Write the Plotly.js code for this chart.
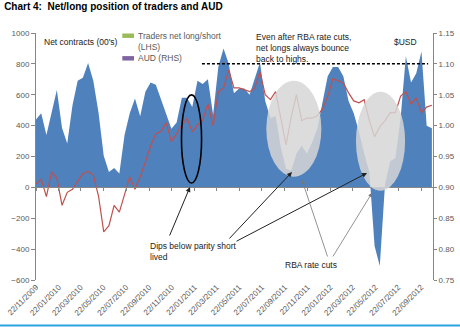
<!DOCTYPE html>
<html><head><meta charset="utf-8">
<script src="https://cdn.plot.ly/plotly-3.0.1.min.js"></script>
<style>html,body{margin:0;padding:0;background:#fff}#chart{width:460px;height:327px}</style>
</head><body><div id="chart"></div>
<script>
const dates = ['2009-11-22','2009-12-06','2009-12-20',
'2010-01-03','2010-01-17','2010-01-31','2010-02-14','2010-02-28','2010-03-14','2010-03-28','2010-04-11','2010-04-25','2010-05-09','2010-05-23','2010-06-06','2010-06-20','2010-07-04','2010-07-18','2010-08-01','2010-08-15','2010-08-29','2010-09-12','2010-09-26','2010-10-10','2010-10-24','2010-11-07','2010-11-21','2010-12-05','2010-12-19',
'2011-01-02','2011-01-16','2011-01-30','2011-02-13','2011-02-27','2011-03-13','2011-03-27','2011-04-10','2011-04-24','2011-05-08','2011-05-22','2011-06-05','2011-06-19','2011-07-03','2011-07-17','2011-07-31','2011-08-14','2011-08-28','2011-09-11','2011-09-25','2011-10-09','2011-10-23','2011-11-06','2011-11-20','2011-12-04','2011-12-18',
'2012-01-01','2012-01-15','2012-01-29','2012-02-12','2012-02-26','2012-03-11','2012-03-25','2012-04-08','2012-04-22','2012-05-06','2012-05-20','2012-06-03','2012-06-17','2012-07-01','2012-07-15','2012-07-29','2012-08-12','2012-08-26','2012-09-09','2012-09-23','2012-10-07','2012-10-21'];

const netContracts = [440,480,340,480,630,385,285,530,690,710,
805,690,485,205,100,125,90,340,480,575,
460,620,680,665,565,480,380,420,580,580,
520,690,670,700,470,780,900,800,610,640,
640,600,710,810,560,450,460,260,120,110,
220,270,220,290,380,540,720,780,780,720,
560,480,360,220,100,-380,-510,20,170,190,
450,850,680,740,880,400,383];

const audUsd = [0.906,0.913,0.885,0.925,0.915,0.871,0.892,0.897,0.910,0.922,
0.926,0.920,0.886,0.828,0.838,0.871,0.860,0.887,0.917,0.897,
0.917,0.941,0.967,0.987,0.991,1.005,0.974,0.987,1.001,1.012,
0.990,1.001,1.009,1.035,1.000,1.055,1.061,1.090,1.061,1.061,
1.058,1.055,1.061,1.087,1.050,1.042,1.055,1.014,0.969,1.014,
1.050,1.008,1.012,1.012,1.016,1.027,1.047,1.076,1.073,1.069,
1.053,1.040,1.037,1.042,1.008,0.982,0.998,1.008,1.021,1.021,
1.048,1.055,1.035,1.045,1.021,1.030,1.033];

const tickDates = ['2009-11-22','2010-01-22','2010-03-22','2010-05-22','2010-07-22','2010-09-22','2010-11-22','2011-01-22','2011-03-22','2011-05-22','2011-07-22','2011-09-22','2011-11-22','2012-01-22','2012-03-22','2012-05-22','2012-07-22','2012-09-22'];
const tickLabels = ['22/11/2009','22/01/2010','22/03/2010','22/05/2010','22/07/2010','22/09/2010','22/11/2010','22/01/2011','22/03/2011','22/05/2011','22/07/2011','22/09/2011','22/11/2011','22/01/2012','22/03/2012','22/05/2012','22/07/2012','22/09/2012'];
const lhsTicks = [-600,-400,-200,0,200,400,600,800,1000];
const rhsTicks = [0.75,0.80,0.85,0.90,0.95,1.00,1.05,1.10,1.15];

const legendNames = ['Traders net long/short<br>(LHS)','AUD (RHS)'];
const legendColors = ['#9BBB59','#8064A2'];

const xRange = ['2009-11-22','2012-10-24'];
const axisGray = '#868686';
const textGray = '#595959';
const tickFont = {family:'Liberation Sans, Arial, sans-serif', size:8, color:textGray};
const noteFont = {family:'Liberation Sans Narrow, Liberation Sans, Arial, sans-serif', size:8.5, color:'#222'};

const traces = [
  {type:'scatter', mode:'lines', x:dates, y:netContracts, fill:'tozeroy',
   fillcolor:'#4F81BD', line:{width:0, color:'#4F81BD'}, showlegend:false, hoverinfo:'skip', xaxis:'x', yaxis:'y'},
  {type:'scatter', mode:'lines', x:dates, y:audUsd, line:{width:1.2, color:'#C0504D'},
   showlegend:false, hoverinfo:'skip', xaxis:'x', yaxis:'y2'},
  {type:'scatter', mode:'markers', x:[null], y:[null], showlegend:false, hoverinfo:'skip', xaxis:'x2', yaxis:'y'}
];

const shapes = [
  {type:'line', xref:'x', yref:'y', x0:'2011-02-11', x1:'2012-10-11', y0:800, y1:800,
   line:{color:'#000', width:1.5, dash:'3px,2px'}},
  {type:'circle', xref:'x', yref:'y', x0:'2010-12-18', x1:'2011-02-10', y0:28, y1:599,
   line:{color:'#000', width:1.6}, fillcolor:'rgba(0,0,0,0)'},
  {type:'circle', xref:'x', yref:'y', x0:'2011-08-03', x1:'2011-12-29', y0:69, y1:690,
   line:{width:0}, fillcolor:'rgba(214,214,214,0.85)'},
  {type:'circle', xref:'x', yref:'y', x0:'2012-03-31', x1:'2012-08-10', y0:-22, y1:620,
   line:{width:0}, fillcolor:'rgba(214,214,214,0.85)'},
  {type:'rect', xref:'paper', yref:'paper', x0:0.2174, x1:0.2469, y0:0.9800, y1:0.9980,
   line:{width:0}, fillcolor:legendColors[0]},
  {type:'rect', xref:'paper', yref:'paper', x0:0.2174, x1:0.2469, y0:0.8885, y1:0.9065,
   line:{width:0}, fillcolor:legendColors[1]},
  {type:'line', xref:'paper', yref:'paper', x0:-0.0907, x1:1.068, y0:-0.184, y1:-0.184,
   line:{color:'#2AA4E0', width:2}}
];

function arrow(x, y, ax, ay, color, w){
  return {xref:'paper', yref:'paper', x:x, y:y, ax:ax, ay:ay, text:'', showarrow:true,
    arrowhead:2, arrowsize:1, arrowwidth:w, arrowcolor:color};
}

const annotations = [
  {xref:'paper', yref:'paper', x:0.0151, y:0.962, xanchor:'left', yanchor:'middle', text:"Net contracts (00's)", showarrow:false, font:noteFont},
  {xref:'paper', yref:'paper', x:0.2511, y:0.964, xanchor:'left', yanchor:'middle', align:'left', text:legendNames[0], showarrow:false, font:{...noteFont, color:textGray}},
  {xref:'paper', yref:'paper', x:0.2511, y:0.8976, xanchor:'left', yanchor:'middle', align:'left', text:legendNames[1], showarrow:false, font:{...noteFont, color:textGray}},
  {xref:'paper', yref:'paper', x:0.549, y:0.939, xanchor:'left', yanchor:'middle', align:'left', text:'Even after RBA rate cuts,<br>net longs always bounce<br>back to highs.', showarrow:false, font:noteFont},
  {xref:'paper', yref:'paper', x:0.9647, y:0.962, xanchor:'right', yanchor:'middle', text:'$USD', showarrow:false, font:noteFont},
  {xref:'paper', yref:'paper', x:0.2821, y:0.1154, xanchor:'left', yanchor:'middle', align:'left', text:'Dips below parity short<br>lived', showarrow:false, font:noteFont},
  {xref:'paper', yref:'paper', x:0.6222, y:0.0607, xanchor:'left', yanchor:'middle', text:'RBA rate cuts', showarrow:false, font:noteFont},
  arrow(0.3879, 0.3765, -21, 50, '#222', 1),
  arrow(0.6448, 0.4372, -64, 68, '#222', 1),
  arrow(0.8338, 0.4332, -132, 69, '#222', 1),
  arrow(0.6700, 0.4049, 26, 78, '#777', 0.8),
  arrow(0.8463, 0.3522, -40, 65, '#777', 0.8)
];

const layout = {
  width:460, height:327,
  margin:{l:36, r:27, t:33, b:47, pad:0},
  paper_bgcolor:'#fff', plot_bgcolor:'#fff',
  showlegend:false,
  title:{text:'Chart 4:  Net/long position of traders and AUD', x:0.009, xanchor:'left', xref:'container',
    y:0.99, yanchor:'top', yref:'container',
    font:{family:'Liberation Sans, Arial, sans-serif', size:10, weight:'bold', color:'#000'}},
  xaxis:{type:'date', range:xRange, tickmode:'array', tickvals:tickDates, ticktext:tickLabels,
    tickangle:-45, ticks:'', showline:false, showgrid:false, zeroline:false, tickfont:tickFont, automargin:false},
  xaxis2:{type:'date', range:xRange, overlaying:'x', anchor:'free', position:0.375,
    tickmode:'array', tickvals:tickDates, ticks:'outside', ticklen:3, tickcolor:axisGray,
    showline:true, linecolor:axisGray, linewidth:1, showticklabels:false, showgrid:false, zeroline:false},
  yaxis:{range:[-600,1000], tickmode:'array', tickvals:lhsTicks, ticks:'outside', ticklen:4, tickcolor:axisGray,
    showline:true, linecolor:axisGray, showgrid:false, zeroline:false, tickfont:tickFont, automargin:false},
  yaxis2:{range:[0.75,1.15], overlaying:'y', side:'right', tickmode:'array', tickvals:rhsTicks, tickformat:'.2f',
    ticks:'outside', ticklen:3, tickcolor:axisGray, showline:true, linecolor:axisGray, showgrid:false, zeroline:false,
    tickfont:tickFont, automargin:false},
  shapes:shapes,
  annotations:annotations
};

Plotly.newPlot('chart', traces, layout, {displayModeBar:false, staticPlot:true});
</script>
</body></html>
